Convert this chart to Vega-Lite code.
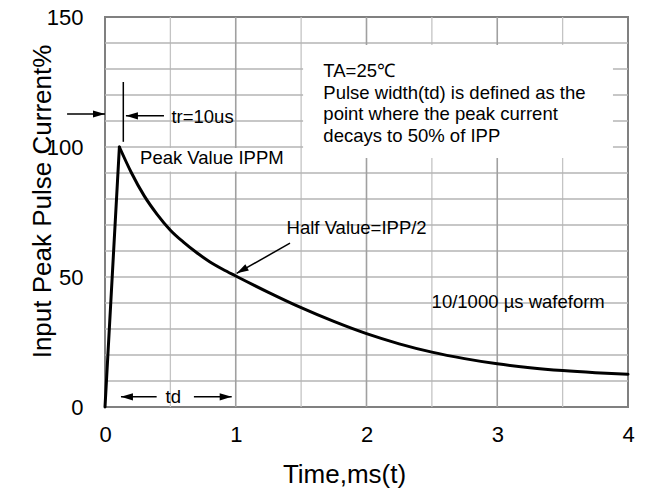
{
  "$schema": "https://vega.github.io/schema/vega-lite/v6.json",
  "autosize": {"type": "none"},
  "padding": {"left": 105, "top": 17, "right": 18, "bottom": 89},
  "width": 523,
  "height": 390,
  "background": "white",
  "config": {
    "view": {"stroke": "#808080", "strokeWidth": 2},
    "font": "Liberation Sans",
    "axis": {
      "labelFont": "Liberation Sans",
      "titleFont": "Liberation Sans",
      "labelColor": "black",
      "titleColor": "black",
      "labelFontSize": 22,
      "titleFontSize": 26,
      "titleFontWeight": "normal",
      "ticks": false,
      "domain": false,
      "grid": false,
      "labelOverlap": false,
      "labelFlush": false
    }
  },
  "layer": [
    {
      "data": {"values": [{"t": 0.5}, {"t": 1.5}, {"t": 2.5}, {"t": 3.5}]},
      "mark": {"type": "rule", "color": "#c4c4c4", "strokeWidth": 1.3},
      "encoding": {
        "x": {"field": "t", "type": "quantitative", "scale": {"domain": [0, 4], "nice": false},
          "axis": {
            "values": [0, 1, 2, 3, 4],
            "format": "d",
            "labelPadding": 17,
            "title": "Time,ms(t)",
            "titleX": 239,
            "titleY": 54,
            "titleAlign": "center",
            "titleBaseline": "top"
          }}
      }
    },
    {
      "data": {"values": [{"v": 10}, {"v": 20}, {"v": 30}, {"v": 40}, {"v": 50}, {"v": 60}, {"v": 70}, {"v": 80}, {"v": 90}, {"v": 100}, {"v": 110}, {"v": 120}, {"v": 130}, {"v": 140}]},
      "mark": {"type": "rule", "color": "#b4b4b4", "strokeWidth": 1.6},
      "encoding": {
        "x": {"datum": 0, "type": "quantitative"},
        "x2": {"datum": 4},
        "y": {"field": "v", "type": "quantitative", "scale": {"domain": [0, 150], "nice": false},
          "axis": {
            "values": [0, 50, 100, 150],
            "labelPadding": 22,
            "title": "Input Peak Pulse Current%",
            "titleFontSize": 26,
            "titleX": -50,
            "titleY": 184,
            "titleAlign": "center",
            "titleBaseline": "bottom"
          }}
      }
    },
    {
      "data": {"values": [{"t": 1}, {"t": 2}, {"t": 3}]},
      "mark": {"type": "rule", "color": "#a0a0a0", "strokeWidth": 1.6},
      "encoding": {
        "x": {"field": "t", "type": "quantitative"}
      }
    },
    {
      "data": {"values": [
        {"t": 1.515, "t2": 3.885, "v": 95.8, "v2": 139.2},
        {"t": 0.25, "t2": 1.3, "v": 90.6, "v2": 99.6}
      ]},
      "mark": {"type": "rect", "fill": "white", "stroke": null},
      "encoding": {
        "x": {"field": "t", "type": "quantitative"},
        "x2": {"field": "t2"},
        "y": {"field": "v", "type": "quantitative"},
        "y2": {"field": "v2"}
      }
    },
    {
      "data": {"values": [
        {"t": 0, "v": 0},
        {"t": 0.11, "v": 100}
      ]},
      "mark": {"type": "line", "color": "black", "strokeWidth": 3, "strokeCap": "round"},
      "encoding": {
        "x": {"field": "t", "type": "quantitative"},
        "y": {"field": "v", "type": "quantitative"}
      }
    },
    {
      "data": {"values": [
        {"t": 0.11, "v": 100},
        {"t": 0.2, "v": 90.3},
        {"t": 0.3, "v": 81.2},
        {"t": 0.4, "v": 74.0},
        {"t": 0.5, "v": 68.0},
        {"t": 0.6, "v": 63.4},
        {"t": 0.7, "v": 59.4},
        {"t": 0.8, "v": 55.9},
        {"t": 0.9, "v": 53.0},
        {"t": 1.0, "v": 50.4},
        {"t": 1.25, "v": 44.1},
        {"t": 1.5, "v": 38.2},
        {"t": 1.75, "v": 32.9},
        {"t": 2.0, "v": 28.2},
        {"t": 2.25, "v": 24.3},
        {"t": 2.5, "v": 21.1},
        {"t": 2.75, "v": 18.6},
        {"t": 3.0, "v": 16.6},
        {"t": 3.25, "v": 15.1},
        {"t": 3.5, "v": 14.0},
        {"t": 3.75, "v": 13.2},
        {"t": 4.0, "v": 12.6}
      ]},
      "mark": {"type": "line", "color": "black", "strokeWidth": 3, "interpolate": "monotone", "strokeCap": "round"},
      "encoding": {
        "x": {"field": "t", "type": "quantitative"},
        "y": {"field": "v", "type": "quantitative"}
      }
    },
    {
      "data": {"values": [
        {"t": -0.29, "t2": 0, "v": 112.7, "v2": 112.7},
        {"t": 0.16, "t2": 0.451, "v": 112, "v2": 112},
        {"t": 0.14, "t2": 0.14, "v": 102, "v2": 125},
        {"t": 0.122, "t2": 0.395, "v": 3.9, "v2": 3.9},
        {"t": 0.68, "t2": 0.969, "v": 3.9, "v2": 3.9},
        {"t": 1.415, "t2": 1.007, "v": 63, "v2": 51.4}
      ]},
      "mark": {"type": "rule", "color": "black", "strokeWidth": 1.5},
      "encoding": {
        "x": {"field": "t", "type": "quantitative"},
        "x2": {"field": "t2"},
        "y": {"field": "v", "type": "quantitative"},
        "y2": {"field": "v2"}
      }
    },
    {
      "data": {"values": [
        {"t": 0.16, "v": 112},
        {"t": 0.122, "v": 3.9}
      ]},
      "mark": {"type": "point", "shape": "M0,0L2,-0.6L2,0.6Z", "filled": true, "color": "black", "opacity": 1, "size": 144, "strokeWidth": 0, "angle": 0},
      "encoding": {
        "x": {"field": "t", "type": "quantitative"},
        "y": {"field": "v", "type": "quantitative"}
      }
    },
    {
      "data": {"values": [
        {"t": 0, "v": 112.7},
        {"t": 0.969, "v": 3.9}
      ]},
      "mark": {"type": "point", "shape": "M0,0L2,-0.6L2,0.6Z", "filled": true, "color": "black", "opacity": 1, "size": 144, "strokeWidth": 0, "angle": 180},
      "encoding": {
        "x": {"field": "t", "type": "quantitative"},
        "y": {"field": "v", "type": "quantitative"}
      }
    },
    {
      "data": {"values": [
        {"t": 1.007, "v": 51.4}
      ]},
      "mark": {"type": "point", "shape": "M0,0L2,-0.6L2,0.6Z", "filled": true, "color": "black", "opacity": 1, "size": 144, "strokeWidth": 0, "angle": 330.5},
      "encoding": {
        "x": {"field": "t", "type": "quantitative"},
        "y": {"field": "v", "type": "quantitative"}
      }
    },
    {
      "data": {"values": [
        {"label": "tr=10us", "t": 0.508, "v": 111.5},
        {"label": "Peak Value IPPM", "t": 0.268, "v": 95.8},
        {"label": "Half Value=IPP/2", "t": 1.389, "v": 69},
        {"label": "10/1000 µs wafeform", "t": 2.498, "v": 40.3},
        {"label": "TA=25℃", "t": 1.67, "v": 129.2},
        {"label": "Pulse width(td) is defined as the", "t": 1.67, "v": 120.9},
        {"label": "point where the peak current", "t": 1.67, "v": 112.7},
        {"label": "decays to 50% of IPP", "t": 1.67, "v": 104.4}
      ]},
      "mark": {"type": "text", "align": "left", "baseline": "middle", "fontSize": 18.5, "font": "Liberation Sans", "color": "black"},
      "encoding": {
        "x": {"field": "t", "type": "quantitative"},
        "y": {"field": "v", "type": "quantitative"},
        "text": {"field": "label"}
      }
    },
    {
      "data": {"values": [
        {"label": "td", "t": 0.522, "v": 4}
      ]},
      "mark": {"type": "text", "align": "center", "baseline": "middle", "fontSize": 18.5, "font": "Liberation Sans", "color": "black"},
      "encoding": {
        "x": {"field": "t", "type": "quantitative"},
        "y": {"field": "v", "type": "quantitative"},
        "text": {"field": "label"}
      }
    }
  ]
}
